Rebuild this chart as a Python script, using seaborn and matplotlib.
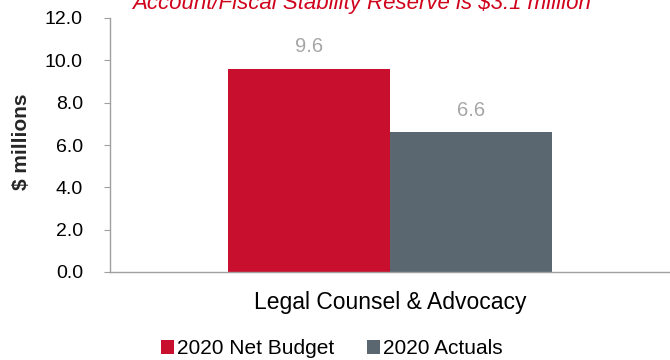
import matplotlib
matplotlib.use("Agg")
import matplotlib.pyplot as plt
import seaborn as sns
import pandas as pd

categories = ["Legal Counsel & Advocacy"]
series = ["2020 Net Budget", "2020 Actuals"]
budget = [9.6]
actuals = [6.6]
yticks = [0, 2, 4, 6, 8, 10, 12]
title = "Account/Fiscal Stability Reserve is $3.1 million"

colors = ["#C8102E", "#5B6770"]

df = pd.DataFrame({
    "category": categories * 2,
    "series": [series[0]] * len(budget) + [series[1]] * len(actuals),
    "value": budget + actuals,
})

sns.set_style("white")
plt.rcParams["font.family"] = ["Liberation Sans", "DejaVu Sans"]
plt.rcParams["text.color"] = "black"
plt.rcParams["xtick.color"] = "black"
plt.rcParams["ytick.color"] = "black"

fig = plt.figure(figsize=(6.7, 3.6), dpi=100)
ax = fig.add_axes([110 / 670, 1 - 272 / 360, 560 / 670, 254 / 360])

sns.barplot(data=df, x="category", y="value", hue="series", palette=colors,
            width=0.58, saturation=1, linewidth=0, ax=ax, legend=True)

for cont in ax.containers:
    ax.bar_label(cont, fmt="%.1f", padding=9, color="#A6A6A6", fontsize=14.5)

ax.set_ylim(0, 12)
ax.set_yticks(yticks)
ax.set_yticklabels([f"{t:.1f}" for t in yticks], fontsize=14)
ax.set_xlim(-0.5, 0.5)
ax.set_xlabel("")
ax.set_ylabel("$ millions", fontsize=15, fontweight="bold")
ax.yaxis.set_label_coords(31 / 670, 1 - 141.5 / 360, transform=fig.transFigure)
ax.tick_params(axis="x", labelsize=16.5, length=0, pad=14)
ax.tick_params(axis="y", length=4.5, width=0.8, color="#A0A0A0", pad=15, left=True,
               labelcolor="black")

for side in ["top", "right"]:
    ax.spines[side].set_visible(False)
for side in ["left", "bottom"]:
    ax.spines[side].set_color("#A0A0A0")
    ax.spines[side].set_linewidth(1)

leg = ax.legend(loc="center", bbox_to_anchor=(332 / 670, 1 - 349 / 360),
                bbox_transform=fig.transFigure, ncol=2, frameon=False,
                fontsize=15, handlelength=0.62, handleheight=0.62,
                handletextpad=0.12, columnspacing=1.6)

fig.text(362 / 670, 1 - 9 / 360, title, ha="center", va="baseline", color="#D0021B",
         fontsize=16, fontstyle="italic")

fig.savefig("out.png", dpi=100)
